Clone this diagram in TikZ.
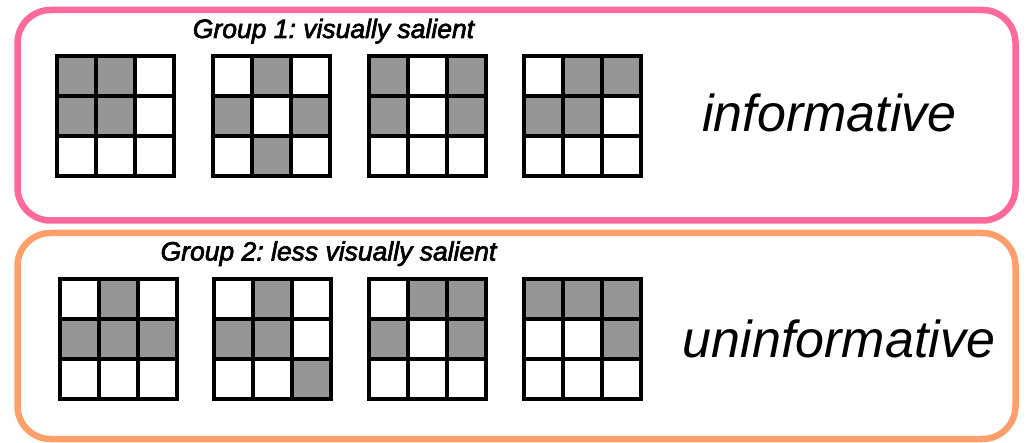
\documentclass[tikz,border=0pt]{standalone}
\usepackage{fontspec}
\setmainfont{Liberation Sans}
\newfontface\titleface{Liberation Sans Italic}[FakeBold=2.5]
\usepackage{xcolor}
\usetikzlibrary{positioning}

\definecolor{salientpink}{RGB}{255,105,155}
\definecolor{lessorange}{RGB}{255,160,108}
\definecolor{cellgray}{RGB}{150,150,150}

% one 3x3 grid: top-left corner (#1,#2), nine cells row by row (1 = gray)
\newcommand{\cellgrid}[3]{%
  \foreach \b [count=\k from 0] in {#3} {
    \pgfmathtruncatemacro{\cc}{mod(\k,3)}
    \pgfmathtruncatemacro{\rr}{div(\k,3)}
    \ifnum\b=1
      \fill[cellgray] (#1+\cc*39,#2+\rr*40) rectangle ++(39,40);
    \fi
  }
  \foreach \i in {0,1,2,3} {
    \draw[cellline] (#1+\i*39,#2) -- ++(0,120);
    \draw[cellline] (#1,#2+\i*40) -- ++(117,0);
  }
}

\begin{document}
\begin{tikzpicture}[
    x=1pt, y=-1pt,
    groupbox/.style={line width=6.5pt, rounded corners=33pt},
    cellline/.style={line width=4pt, line cap=rect, black},
    grouptitle/.style={inner sep=0pt, anchor=base, font=\titleface\frenchspacing\fontsize{26.5}{30}\selectfont},
    verdict/.style={inner sep=0pt, anchor=base, font=\itshape\fontsize{52}{60}\selectfont}
  ]
    \useasboundingbox (0,0) rectangle (1032,443);

    % group 1
    \draw[groupbox, draw=salientpink] (17.5,10) rectangle (1015.5,220.5);
    \node[grouptitle] (title1) at (333.5,38) {Group 1: visually salient};
    \cellgrid{57}{56}{1,1,0, 1,1,0, 0,0,0}
    \cellgrid{213}{56}{0,1,0, 1,0,1, 0,1,0}
    \cellgrid{369}{56}{1,0,1, 1,0,1, 0,0,0}
    \cellgrid{524}{56}{0,1,1, 1,1,0, 0,0,0}
    \node[verdict] (info) at (829.5,132) {informative};

    % group 2
    \draw[groupbox, draw=lessorange] (17.5,233) rectangle (1015.5,439);
    \node[grouptitle] (title2) at (328.5,260.5) {Group 2: less visually salient};
    \cellgrid{60}{279}{0,1,0, 1,1,1, 0,0,0}
    \cellgrid{214}{279}{0,1,0, 1,1,0, 0,0,1}
    \cellgrid{369}{279}{0,1,1, 1,0,1, 0,0,0}
    \cellgrid{524}{279}{1,1,1, 0,0,1, 0,0,0}
    \node[verdict] (uninfo) at (839,357) {uninformative};
  \end{tikzpicture}
\end{document}
